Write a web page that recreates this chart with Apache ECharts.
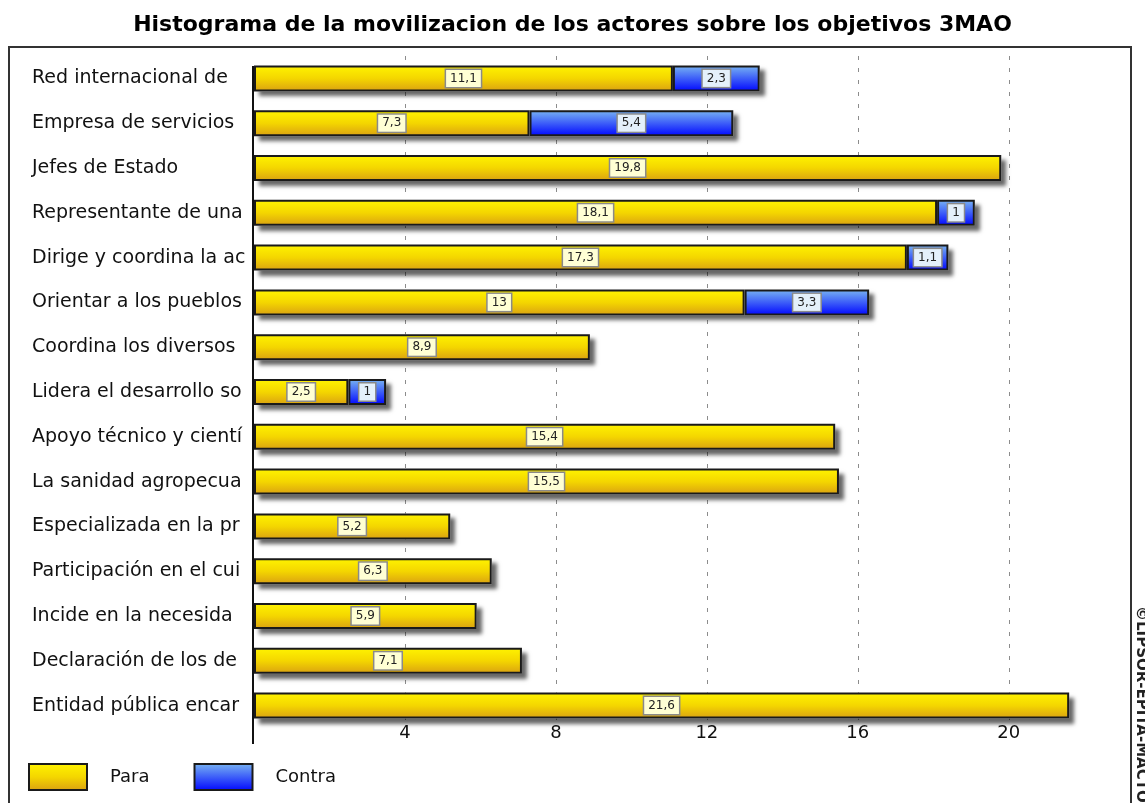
<!DOCTYPE html>
<html>
<head>
<meta charset="utf-8">
<script src="https://cdn.jsdelivr.net/npm/echarts@6/dist/echarts.min.js"></script>
<style>
  html, body { margin: 0; padding: 0; background: #fff; }
  #chart { width: 1145px; height: 803px; }
</style>
</head>
<body>
<div id="chart"></div>
<script>
// categorias (de arriba hacia abajo)
var categorias = [
  "Red internacional de",
  "Empresa de servicios",
  "Jefes de Estado",
  "Representante de una",
  "Dirige y coordina la ac",
  "Orientar a los pueblos",
  "Coordina los diversos",
  "Lidera el desarrollo so",
  "Apoyo técnico y cientí",
  "La sanidad agropecua",
  "Especializada en la pr",
  "Participación en el cui",
  "Incide en la necesida",
  "Declaración de los de",
  "Entidad pública encar"
];
var para = [11.1, 7.3, 19.8, 18.1, 17.3, 13, 8.9, 2.5, 15.4, 15.5, 5.2, 6.3, 5.9, 7.1, 21.6];
var contra = [2.3, 5.4, 0, 1, 1.1, 3.3, 0, 1, 0, 0, 0, 0, 0, 0, 0];
var ticksX = [4, 8, 12, 16, 20];

var fuente = "DejaVu Sans";

// total de cada fila, solo para la sombra
var total = para.map(function (v, i) { return +(v + contra[i]).toFixed(1); });

// degradados de las barras
var amarillo = {
  type: "linear", x: 0, y: 0, x2: 0, y2: 1,
  colorStops: [
    { offset: 0, color: "#fff400" },
    { offset: 0.5, color: "#f4d600" },
    { offset: 1, color: "#d9a012" }
  ]
};
var azul = {
  type: "linear", x: 0, y: 0, x2: 0, y2: 1,
  colorStops: [
    { offset: 0, color: "#7ab6f2" },
    { offset: 1, color: "#0006ff" }
  ]
};

function etiqueta(fondo) {
  return {
    show: true,
    position: "inside",
    formatter: function (p) {
      return String(p.value).replace(".", ",");
    },
    fontFamily: fuente,
    fontSize: 12,
    color: "#222",
    backgroundColor: fondo,
    borderColor: "#8a8a8a",
    borderWidth: 1.5,
    padding: [3, 4, 2, 4]
  };
}

function estiloBarra(color) {
  return {
    color: color,
    borderColor: "#1a1a1a",
    borderWidth: 2
  };
}

var myChart = echarts.init(document.getElementById("chart"), null, { renderer: "canvas" });

var option = {
  backgroundColor: "#fff",
  animation: false,
  title: {
    text: "Histograma de la movilizacion de los actores sobre los objetivos 3MAO",
    left: "center",
    top: 9,
    textStyle: {
      fontFamily: fuente,
      fontWeight: "bold",
      fontSize: 22,
      color: "#000"
    }
  },
  legend: {
    left: 28,
    top: 763,
    padding: 0,
    icon: "rect",
    itemWidth: 58,
    itemHeight: 26,
    itemGap: 44,
    itemStyle: { borderWidth: 2, borderColor: "#1a1a1a" },
    textStyle: { fontFamily: fuente, fontSize: 18, color: "#111", padding: [0, 0, 0, 18] },
    data: ["Para", "Contra"]
  },
  grid: {
    left: 254,
    right: 23,
    top: 56,
    bottom: 75,
    containLabel: false
  },
  xAxis: {
    type: "value",
    min: 0,
    max: 23,
    interval: 4,
    axisLine: { show: false },
    axisTick: { show: false },
    axisLabel: {
      showMinLabel: false,
      showMaxLabel: false,
      verticalAlign: "middle",
      margin: 5,
      fontFamily: fuente,
      fontSize: 18,
      color: "#111",
      formatter: function (v) {
        return ticksX.indexOf(v) >= 0 ? String(v) : "";
      }
    },
    splitLine: {
      show: true,
      showMinLine: false,
      showMaxLine: false,
      lineStyle: { color: "#8c8c8c", width: 1, type: [4, 8] }
    }
  },
  yAxis: {
    type: "category",
    inverse: true,
    data: categorias,
    axisLine: { show: false },
    axisTick: { show: false },
    axisLabel: {
      align: "left",
      margin: 222,
      fontFamily: fuente,
      fontSize: 19,
      color: "#111"
    }
  },
  series: [
    {
      name: "sombra",
      type: "bar",
      barWidth: 26,
      barGap: "-100%",
      z: 1,
      silent: true,
      itemStyle: {
        color: "#ffffff",
        shadowColor: "rgba(0,0,0,0.6)",
        shadowBlur: 4,
        shadowOffsetX: 5,
        shadowOffsetY: 5
      },
      data: total
    },
    {
      name: "Para",
      type: "bar",
      stack: "total",
      barWidth: 26,
      z: 3,
      itemStyle: estiloBarra(amarillo),
      label: etiqueta("#ffffd4"),
      data: para.map(function (v) { return v || null; })
    },
    {
      name: "Contra",
      type: "bar",
      stack: "total",
      barWidth: 26,
      z: 3,
      itemStyle: estiloBarra(azul),
      label: etiqueta("#e4f0fb"),
      data: contra.map(function (v) { return v || null; })
    }
  ],
  graphic: [
    {
      type: "rect",
      silent: true,
      shape: { x: 9, y: 47, width: 1122, height: 800 },
      style: { fill: null, stroke: "#333", lineWidth: 2 }
    },
    {
      type: "line",
      silent: true,
      shape: { x1: 253, y1: 66, x2: 253, y2: 744 },
      style: { stroke: "#111", lineWidth: 2 }
    },
    {
      type: "text",
      silent: true,
      x: 1133,
      y: 606,
      rotation: -Math.PI / 2,
      style: {
        text: "©LIPSOR-EPITA-MACTOR",
        fontFamily: fuente,
        fontSize: 15,
        fontWeight: "bold",
        fill: "#222",
        verticalAlign: "bottom"
      }
    }
  ]
};

myChart.setOption(option);
</script>
</body>
</html>
